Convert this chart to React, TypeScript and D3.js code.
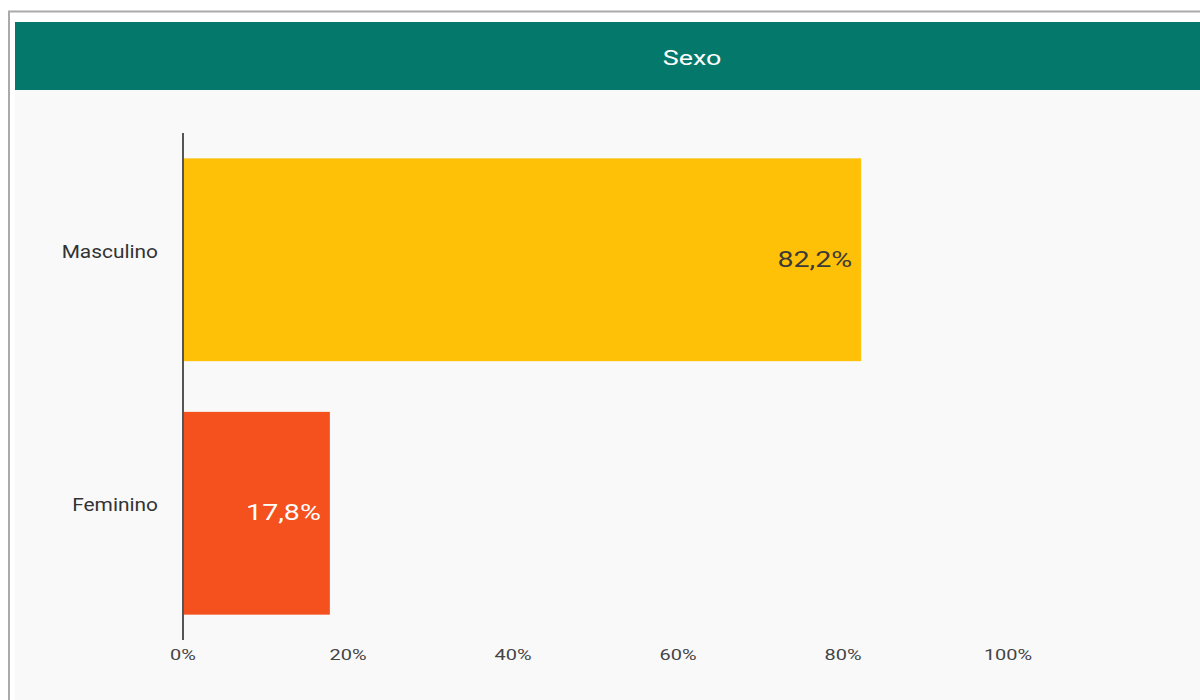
import React from "react";
import * as d3 from "d3";

const categories = ["Masculino", "Feminino"];
const values = [82.2, 17.8];
const valueLabels = ["82,2%", "17,8%"];
const barColors = ["#FFC107", "#F5511E"];
const labelColors = ["#3a3a3a", "#ffffff"];
const tickValues = [0, 20, 40, 60, 80, 100];
const title = "Sexo";

function SText(props: { x: number; y: number; sx: number; size: number; fill: string; anchor: string; children: any }) {
  return (
    <text
      transform={`translate(${props.x},${props.y}) scale(${props.sx},1)`}
      fill={props.fill}
      fontSize={props.size}
      textAnchor={props.anchor}
      dominantBaseline="middle"
    >
      {props.children}
    </text>
  );
}

export default function App() {
  const W = 1200, H = 700;
  const x0 = 183;
  const x = d3.scaleLinear().domain([0, 100]).range([x0, x0 + 825]);
  const y = d3.scaleBand().domain(categories).range([133, 640]).paddingInner(0.2).paddingOuter(0.1);
  const font = "Roboto, 'Noto Sans', sans-serif";
  return (
    <svg width={W} height={H} style={{ position: "absolute", left: 0, top: 0, display: "block" }} fontFamily={font}>
      <rect x={0} y={0} width={W} height={H} fill="#ffffff" />
      <rect x={15} y={90} width={W} height={H} fill="#f9f9f9" />
      <line x1={8} x2={W} y1={11.5} y2={11.5} stroke="#aaaaaa" strokeWidth={2} />
      <line x1={9} x2={9} y1={11} y2={H} stroke="#aaaaaa" strokeWidth={2} />
      <rect x={15} y={22} width={W} height={68} fill="#03786B" />
      <SText x={692} y={59} sx={1.28} size={21} fill="#ffffff" anchor="middle">{title}</SText>
      {categories.map((c, i) => (
        <g key={c}>
          <rect x={x(0)} y={y(c)!} width={x(values[i]) - x(0)} height={y.bandwidth()} fill={barColors[i]} />
          <SText x={x(values[i]) - 9} y={y(c)! + y.bandwidth() / 2 + 1} sx={1.3} size={22} fill={labelColors[i]} anchor="end">
            {valueLabels[i]}
          </SText>
          <SText x={158} y={y(c)! + y.bandwidth() / 2 - 7} sx={1.16} size={18} fill="#333333" anchor="end">
            {c}
          </SText>
        </g>
      ))}
      <line x1={x0} x2={x0} y1={133} y2={640} stroke="#555555" strokeWidth={2} />
      {tickValues.map((t) => (
        <SText key={t} x={x(t)} y={656} sx={1.33} size={15} fill="#444444" anchor="middle">{`${t}%`}</SText>
      ))}
    </svg>
  );
}
